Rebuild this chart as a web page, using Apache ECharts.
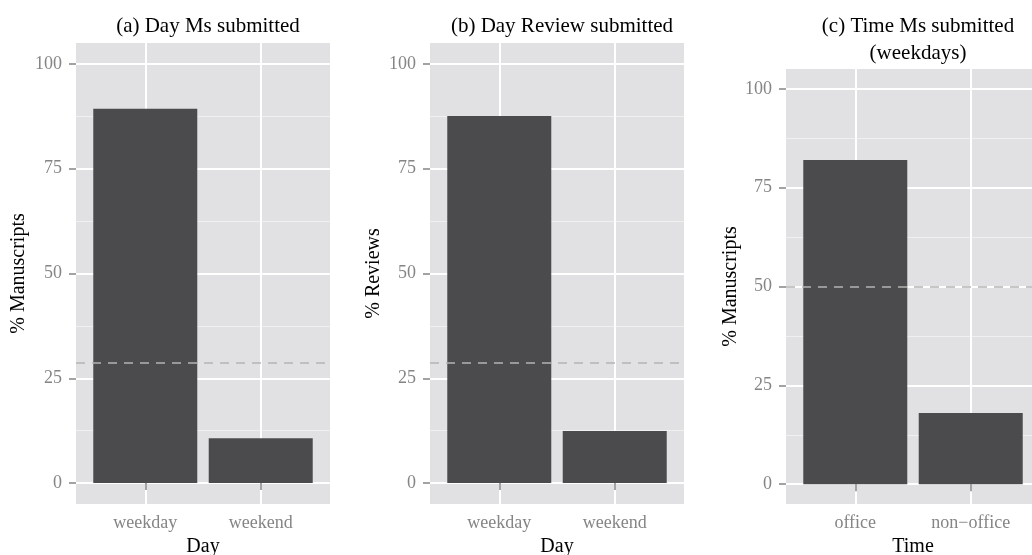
<!DOCTYPE html>
<html>
<head>
<meta charset="utf-8">
<script src="https://cdn.jsdelivr.net/npm/echarts@6/dist/echarts.min.js"></script>
<style>
  html, body { margin: 0; padding: 0; background: #fff; }
  #chart { width: 1032px; height: 555px; }
</style>
</head>
<body>
<div id="chart"></div>
<script>
  // data
  const dayCats = ['weekday', 'weekend'];
  const timeCats = ['office', 'non\u2212office'];
  const msDayPct = [89.3, 10.7];
  const reviewDayPct = [87.6, 12.4];
  const msTimePct = [82.0, 18.0];
  const refLines = [28.6, 28.6, 50];
  const yTicks = [0, 25, 50, 75, 100];
  const yMinorTicks = [12.5, 37.5, 62.5, 87.5];

  const panelTitles = ['(a) Day Ms submitted', '(b) Day Review submitted', '(c) Time Ms submitted\n(weekdays)'];
  const xNames = ['Day', 'Day', 'Time'];
  const yNames = ['% Manuscripts', '% Reviews', '% Manuscripts'];
  const catsList = [dayCats, dayCats, timeCats];
  const valuesList = [msDayPct, reviewDayPct, msTimePct];

  const FONT = 'Liberation Serif';
  const GREY = '#858585';

  // panel layout (px)
  const panels = [
    { left: 76, top: 43, titleX: 203, titleY: 8, yGap: 47 },
    { left: 430, top: 43, titleX: 557, titleY: 8, yGap: 46 },
    { left: 786, top: 69, titleX: 913, titleY: 8, yGap: 45 }
  ];
  const panelW = 254, panelBottom = 504;

  let chart = echarts.init(document.getElementById('chart'));

  let grids = [], xAxes = [], yAxes = [], series = [], titles = [];
  panels.forEach((p, i) => {
    titles.push({
      text: panelTitles[i],
      left: p.titleX,
      top: p.titleY,
      textAlign: 'center',
      textStyle: { fontFamily: FONT, fontSize: 21, fontWeight: 'normal', color: '#000', lineHeight: 27 }
    });
    grids.push({
      left: p.left, top: p.top, width: panelW, height: panelBottom - p.top,
      show: true, backgroundColor: '#e1e1e3', borderWidth: 0,
      outerBoundsMode: 'none'
    });
    let cats = catsList[i];
    xAxes.push({
      type: 'value', gridIndex: i, min: 0.4, max: 2.6,
      axisLine: { show: false },
      axisTick: { show: true, customValues: [1, 2], length: 7, lineStyle: { color: GREY, width: 1.5 } },
      axisLabel: {
        customValues: [1, 2], margin: 10,
        fontFamily: FONT, fontSize: 18, color: GREY,
        formatter: v => cats[Math.round(v) - 1]
      },
      splitLine: { show: true, lineStyle: { color: '#fff', width: 2 } },
      name: xNames[i], nameLocation: 'middle', nameGap: 29,
      nameTextStyle: { fontFamily: FONT, fontSize: 20, color: '#000' }
    });
    // major y axis
    yAxes.push({
      type: 'value', gridIndex: i, min: -5, max: 105, position: 'left',
      axisLine: { show: false },
      axisTick: { show: true, customValues: yTicks, length: 7, lineStyle: { color: GREY, width: 1.5 } },
      axisLabel: { customValues: yTicks, margin: 14, fontFamily: FONT, fontSize: 18, color: GREY },
      splitLine: { show: true, lineStyle: { color: '#fff', width: 2 } },
      name: yNames[i], nameLocation: 'middle', nameGap: p.yGap,
      nameTextStyle: { fontFamily: FONT, fontSize: 20, color: '#000' }
    });
    // minor grid lines
    yAxes.push({
      type: 'value', gridIndex: i, min: -5, max: 105, position: 'right',
      axisLine: { show: false },
      axisTick: { show: false, customValues: yMinorTicks },
      axisLabel: { show: false },
      splitLine: { show: true, lineStyle: { color: '#f0f0f1', width: 1 } }
    });
    series.push({
      type: 'bar', xAxisIndex: i, yAxisIndex: 2 * i,
      data: valuesList[i].map((v, k) => [k + 1, v]),
      barWidth: 104,
      itemStyle: { color: '#4b4b4d' },
      z: 3,
      silent: true,
      markLine: {
        silent: true, symbol: 'none',
        label: { show: false },
        lineStyle: { color: '#b4b4b4', type: [9, 7], width: 1.5 },
        data: [{ yAxis: refLines[i] }]
      }
    });
  });

  let option = {
    animation: false,
    title: titles,
    grid: grids,
    xAxis: xAxes,
    yAxis: yAxes,
    series: series
  };
  chart.setOption(option);
</script>
</body>
</html>
